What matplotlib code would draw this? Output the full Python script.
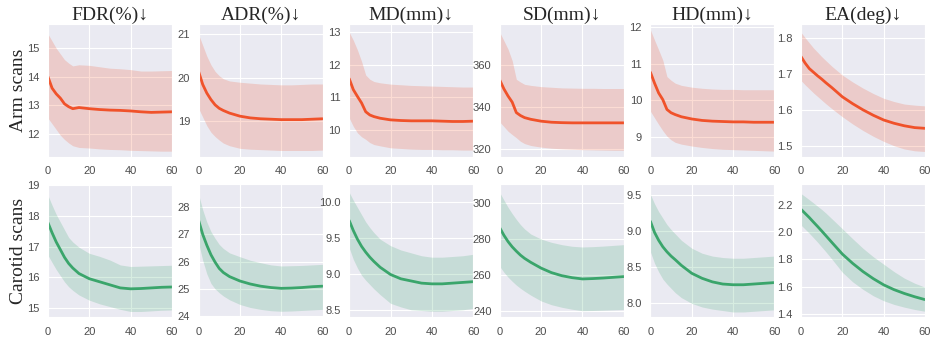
import numpy as np
import matplotlib
matplotlib.use('Agg')
from matplotlib import pyplot as plt
import seaborn as sns

sns.set_style('darkgrid')
plt.rcParams['font.family'] = ['Liberation Sans', 'DejaVu Sans']

titles = ['FDR(%)↓', 'ADR(%)↓', 'MD(mm)↓', 'SD(mm)↓', 'HD(mm)↓', 'EA(deg)↓']
rows = ['Arm scans', 'Carotid scans']
xs = [0, 2, 4, 6, 8, 10, 12, 15, 20, 25, 30, 35, 40, 45, 50, 55, 60]

# arm scans: mean, upper, lower
arm_fdr = [14.0, 13.6, 13.4, 13.25, 13.05, 12.95, 12.88, 12.92, 12.88, 12.85, 12.83, 12.82, 12.8, 12.77, 12.75, 12.76, 12.77]
arm_fdr_hi = [15.5, 15.25, 15.0, 14.8, 14.6, 14.48, 14.38, 14.42, 14.4, 14.35, 14.3, 14.28, 14.25, 14.2, 14.2, 14.21, 14.22]
arm_fdr_lo = [12.55, 12.35, 12.15, 11.95, 11.8, 11.68, 11.58, 11.52, 11.5, 11.47, 11.45, 11.44, 11.42, 11.41, 11.4, 11.39, 11.39]

arm_adr = [20.15, 19.85, 19.65, 19.5, 19.38, 19.3, 19.25, 19.19, 19.12, 19.08, 19.06, 19.05, 19.04, 19.04, 19.04, 19.05, 19.06]
arm_adr_hi = [21.0, 20.75, 20.5, 20.3, 20.15, 20.05, 19.98, 19.93, 19.9, 19.88, 19.86, 19.85, 19.84, 19.84, 19.85, 19.86, 19.86]
arm_adr_lo = [19.3, 19.1, 18.9, 18.75, 18.65, 18.57, 18.5, 18.44, 18.38, 18.36, 18.35, 18.34, 18.33, 18.33, 18.33, 18.33, 18.34]

arm_md = [11.57, 11.23, 11.02, 10.82, 10.55, 10.45, 10.4, 10.35, 10.3, 10.28, 10.27, 10.27, 10.27, 10.26, 10.25, 10.25, 10.26]
arm_md_hi = [13.0, 12.75, 12.45, 12.1, 11.68, 11.55, 11.48, 11.44, 11.4, 11.38, 11.36, 11.35, 11.34, 11.33, 11.32, 11.31, 11.31]
arm_md_lo = [10.36, 10.1, 9.9, 9.78, 9.7, 9.6, 9.54, 9.5, 9.44, 9.42, 9.4, 9.39, 9.39, 9.38, 9.38, 9.37, 9.37]

arm_sd = [352.7, 348.5, 345.1, 342.2, 337.2, 335.8, 334.8, 334.0, 333.1, 332.6, 332.4, 332.3, 332.3, 332.3, 332.3, 332.3, 332.3]
arm_sd_hi = [375.5, 371.5, 367.5, 362.0, 353.1, 351.8, 350.7, 350.2, 349.6, 349.3, 349.0, 348.9, 348.8, 348.8, 348.7, 348.7, 348.7]
arm_sd_lo = [332.7, 330.5, 328.3, 326.7, 325.2, 323.5, 322.4, 321.5, 320.7, 320.2, 319.9, 319.7, 319.5, 319.4, 319.3, 319.2, 319.2]

arm_hd = [10.77, 10.47, 10.2, 10.02, 9.75, 9.66, 9.61, 9.55, 9.49, 9.45, 9.43, 9.42, 9.41, 9.41, 9.4, 9.4, 9.4]
arm_hd_hi = [11.93, 11.65, 11.38, 11.1, 10.65, 10.55, 10.47, 10.41, 10.36, 10.33, 10.31, 10.3, 10.3, 10.29, 10.29, 10.29, 10.29]
arm_hd_lo = [9.7, 9.52, 9.34, 9.17, 9.02, 8.92, 8.85, 8.8, 8.75, 8.71, 8.68, 8.66, 8.65, 8.64, 8.63, 8.62, 8.61]

arm_ea = [1.748, 1.730, 1.715, 1.705, 1.695, 1.686, 1.676, 1.662, 1.637, 1.618, 1.601, 1.586, 1.573, 1.564, 1.557, 1.552, 1.550]
arm_ea_hi = [1.815, 1.8, 1.786, 1.772, 1.76, 1.748, 1.737, 1.721, 1.697, 1.678, 1.661, 1.646, 1.633, 1.624, 1.617, 1.614, 1.612]
arm_ea_lo = [1.682, 1.67, 1.659, 1.648, 1.638, 1.628, 1.618, 1.604, 1.582, 1.562, 1.544, 1.528, 1.514, 1.502, 1.493, 1.488, 1.486]

# carotid scans
car_fdr = [17.78, 17.45, 17.15, 16.9, 16.65, 16.45, 16.3, 16.12, 15.95, 15.85, 15.75, 15.65, 15.62, 15.63, 15.65, 15.67, 15.68]
car_fdr_hi = [18.67, 18.35, 18.05, 17.8, 17.55, 17.3, 17.15, 16.98, 16.78, 16.68, 16.56, 16.4, 16.35, 16.36, 16.37, 16.38, 16.39]
car_fdr_lo = [16.72, 16.48, 16.25, 16.05, 15.85, 15.69, 15.57, 15.42, 15.25, 15.13, 15.04, 14.95, 14.88, 14.88, 14.9, 14.92, 14.93]

car_adr = [27.52, 27.0, 26.6, 26.25, 25.98, 25.75, 25.6, 25.45, 25.29, 25.18, 25.1, 25.05, 25.02, 25.03, 25.05, 25.08, 25.1]
car_adr_hi = [28.47, 27.9, 27.45, 27.1, 26.85, 26.63, 26.48, 26.32, 26.18, 26.05, 25.96, 25.88, 25.84, 25.85, 25.86, 25.88, 25.9]
car_adr_lo = [26.69, 26.05, 25.55, 25.2, 25.0, 24.86, 24.74, 24.6, 24.43, 24.32, 24.25, 24.2, 24.18, 24.19, 24.21, 24.23, 24.25]

car_md = [9.74, 9.6, 9.48, 9.38, 9.3, 9.23, 9.17, 9.09, 8.99, 8.93, 8.9, 8.87, 8.86, 8.86, 8.87, 8.88, 8.89]
car_md_hi = [10.13, 10.02, 9.92, 9.82, 9.72, 9.64, 9.57, 9.48, 9.39, 9.33, 9.29, 9.25, 9.23, 9.23, 9.24, 9.25, 9.27]
car_md_lo = [9.36, 9.2, 9.08, 8.98, 8.91, 8.85, 8.79, 8.71, 8.59, 8.54, 8.5, 8.49, 8.48, 8.48, 8.49, 8.5, 8.52]

car_sd = [286.1, 282.0, 278.5, 275.6, 273.2, 271.0, 269.2, 267.0, 263.8, 261.3, 259.6, 258.5, 257.8, 258.0, 258.3, 258.7, 259.1]
car_sd_hi = [305.6, 301.5, 297.5, 294.0, 290.8, 287.9, 285.5, 282.7, 279.9, 278.1, 276.8, 275.9, 275.5, 275.7, 276.0, 276.4, 276.8]
car_sd_lo = [264.7, 261.5, 258.8, 256.5, 254.4, 252.6, 251.0, 248.8, 245.6, 243.5, 242.1, 241.0, 240.2, 240.3, 240.5, 240.7, 240.9]

car_hd = [9.135, 8.98, 8.87, 8.78, 8.71, 8.65, 8.6, 8.52, 8.41, 8.34, 8.29, 8.26, 8.25, 8.25, 8.26, 8.27, 8.28]
car_hd_hi = [9.51, 9.38, 9.27, 9.18, 9.09, 9.02, 8.96, 8.87, 8.76, 8.69, 8.65, 8.63, 8.62, 8.62, 8.63, 8.64, 8.65]
car_hd_lo = [8.71, 8.55, 8.43, 8.33, 8.26, 8.2, 8.14, 8.07, 7.99, 7.94, 7.91, 7.89, 7.87, 7.87, 7.88, 7.89, 7.9]

car_ea = [2.165, 2.135, 2.105, 2.072, 2.04, 2.007, 1.973, 1.922, 1.838, 1.77, 1.71, 1.658, 1.613, 1.578, 1.55, 1.526, 1.505]
car_ea_hi = [2.28, 2.258, 2.235, 2.212, 2.188, 2.164, 2.138, 2.095, 2.023, 1.95, 1.88, 1.818, 1.764, 1.71, 1.662, 1.625, 1.596]
car_ea_lo = [2.05, 2.02, 1.99, 1.958, 1.925, 1.89, 1.855, 1.8, 1.705, 1.635, 1.58, 1.533, 1.497, 1.47, 1.45, 1.433, 1.42]

yticks_arm = [[12, 13, 14, 15], [19, 20, 21], [10, 11, 12, 13], [320, 340, 360], [9, 10, 11, 12], [1.5, 1.6, 1.7, 1.8]]
yticks_car = [[15, 16, 17, 18, 19], [24, 25, 26, 27, 28], [8.5, 9.0, 9.5, 10.0], [240, 260, 280, 300], [8.0, 8.5, 9.0, 9.5], [1.4, 1.6, 1.8, 2.0, 2.2]]
ylims_arm = [(11.2, 15.85), (18.19, 21.24), (9.17, 13.25), (316.2, 379.5), (8.46, 12.09), (1.472, 1.838)]
ylims_car = [(14.7, 19.03), (23.97, 28.83), (8.40, 10.24), (236.7, 310.2), (7.8, 9.65), (1.378, 2.347)]

arm = [(arm_fdr, arm_fdr_hi, arm_fdr_lo), (arm_adr, arm_adr_hi, arm_adr_lo), (arm_md, arm_md_hi, arm_md_lo),
       (arm_sd, arm_sd_hi, arm_sd_lo), (arm_hd, arm_hd_hi, arm_hd_lo), (arm_ea, arm_ea_hi, arm_ea_lo)]
car = [(car_fdr, car_fdr_hi, car_fdr_lo), (car_adr, car_adr_hi, car_adr_lo), (car_md, car_md_hi, car_md_lo),
       (car_sd, car_sd_hi, car_sd_lo), (car_hd, car_hd_hi, car_hd_lo), (car_ea, car_ea_hi, car_ea_lo)]

colors = ['#f0522a', '#3aa56b']
serif = ['Liberation Serif', 'DejaVu Serif']

fig, axes = plt.subplots(2, 6, figsize=(9.33, 3.41), dpi=100)
plt.subplots_adjust(left=0.0514, right=0.9914, top=0.9296, bottom=0.0704, wspace=0.215, hspace=0.21)

for r, (data, yts, yls) in enumerate([(arm, yticks_arm, ylims_arm), (car, yticks_car, ylims_car)]):
    for c in range(6):
        ax = axes[r, c]
        m, hi, lo = data[c]
        ax.fill_between(xs, lo, hi, color=colors[r], alpha=0.2, linewidth=0)
        ax.plot(xs, m, color=colors[r], lw=2)
        ax.set_xlim(0, 60)
        ax.set_xticks([0, 20, 40, 60])
        ax.set_yticks(yts[c])
        ax.set_ylim(*yls[c])
        ax.tick_params(axis='both', labelsize=8, labelcolor='0.3', length=0)
        ax.tick_params(axis='x', pad=7)
        ax.tick_params(axis='y', pad=6)
        if r == 0:
            ax.set_title(titles[c], fontsize=14, family=serif, pad=3)

fig.text(0.02, (0.9296 + 0.54) / 2, rows[0], rotation=90, ha='center', va='center', fontsize=14, family=serif)
fig.text(0.02, (0.46 + 0.0704) / 2, rows[1], rotation=90, ha='center', va='center', fontsize=14, family=serif)

plt.savefig('out.png', dpi=100)
